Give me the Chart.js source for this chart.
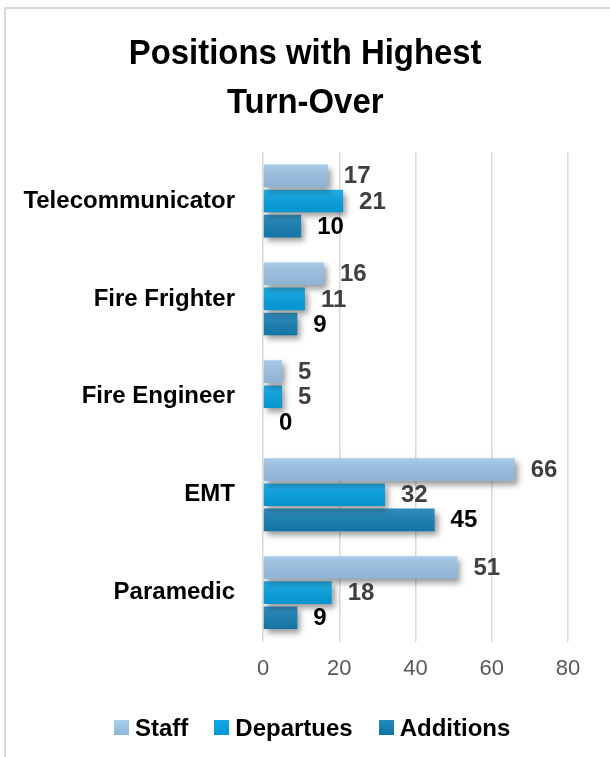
<!DOCTYPE html>
<html lang="en">
<head>
    <meta charset="UTF-8">
    <title>Positions with Highest Turn-Over</title>
    <script src="https://cdn.jsdelivr.net/npm/chart.js"></script>
    <style>
        html, body { margin: 0; padding: 0; background: #fff; overflow: hidden; }
        .frame {
            position: absolute;
            left: 4px; top: 7px;
            width: 604px; height: 800px;
            border-left: 2px solid #d9d9d9;
            border-top: 2px solid #d9d9d9;
            border-right: 1px solid #ececec;
        }
        .chart-title {
            position: absolute;
            left: 0; top: 27px;
            width: 610px;
            margin: 0;
            text-align: center;
            font-family: "Liberation Sans", Arial, sans-serif;
            font-weight: bold;
            font-size: 35px;
            line-height: 49px;
            color: #000;
            transform: scaleX(0.94);
            transform-origin: 308px 0;
        }
        .chart-container {
            position: absolute;
            left: 0; top: 0;
            width: 610px; height: 757px;
        }
        .chart-legend {
            position: absolute;
            left: 114px; top: 713px;
            white-space: nowrap;
            font-family: "Liberation Sans", Arial, sans-serif;
            font-weight: bold;
            font-size: 24px;
            line-height: 30px;
            color: #000;
        }
        .chart-legend span.item { margin-right: 26px; }
        .chart-legend span.box {
            display: inline-block;
            width: 15px; height: 15px;
            margin-right: 6px;
            vertical-align: 1px;
        }
    </style>
</head>
<body>
    <div class="frame"></div>
    <div class="chart-container">
        <canvas id="turnoverChart"></canvas>
    </div>
    <h1 class="chart-title">Positions with Highest<br>Turn-Over</h1>
    <div class="chart-legend" id="legend"></div>

    <script>
        const categories = ['Telecommunicator', 'Fire Frighter', 'Fire Engineer', 'EMT', 'Paramedic'];
        const seriesNames = ['Staff', 'Departues', 'Additions'];
        const staff = [17, 16, 5, 66, 51];
        const departures = [21, 11, 5, 32, 18];
        const additions = [10, 9, 0, 45, 9];
        const xTicks = [0, 20, 40, 60, 80];

        const barColors = ['#9cc3e6', '#05a1e0', '#167fb3'];
        const legendBoxes = [
            'linear-gradient(#abd0ee, #8db4da)',
            'linear-gradient(#10a8e6, #0097d6)',
            'linear-gradient(#2789bd, #0a74a7)'
        ];
        const valueColors = ['#404040', '#404040', '#000000'];

        // drop shadow + sheen + value labels
        const barDecor = {
            id: 'barDecor',
            beforeDatasetsDraw(chart) {
                const c = chart.ctx;
                c.save();
                c.shadowColor = 'rgba(0,0,0,0.4)';
                c.shadowBlur = 6;
                c.shadowOffsetX = 3;
                c.shadowOffsetY = 4;
            },
            afterDatasetsDraw(chart) {
                const c = chart.ctx;
                c.restore();
                chart.data.datasets.forEach((ds, di) => {
                    const meta = chart.getDatasetMeta(di);
                    meta.data.forEach((bar, i) => {
                        const top = bar.y - bar.height / 2;
                        const w = bar.x - bar.base;
                        if (w > 0) {
                            const g = c.createLinearGradient(0, top, 0, top + bar.height);
                            g.addColorStop(0, 'rgba(255,255,255,0.12)');
                            g.addColorStop(1, 'rgba(0,0,0,0.08)');
                            c.fillStyle = g;
                            c.fillRect(bar.base, top, w, bar.height);
                        }
                        c.save();
                        c.font = 'bold 24px "Liberation Sans", Arial, sans-serif';
                        c.fillStyle = valueColors[di];
                        c.textAlign = 'left';
                        c.textBaseline = 'middle';
                        c.fillText(ds.data[i], bar.x + 16, bar.y + 1);
                        c.restore();
                    });
                });
            }
        };

        const ctx = document.getElementById('turnoverChart').getContext('2d');
        const turnoverChart = new Chart(ctx, {
            type: 'bar',
            data: {
                labels: categories,
                datasets: [
                    { label: seriesNames[0], data: staff, backgroundColor: barColors[0] },
                    { label: seriesNames[1], data: departures, backgroundColor: barColors[1] },
                    { label: seriesNames[2], data: additions, backgroundColor: barColors[2] }
                ]
            },
            options: {
                indexAxis: 'y',
                responsive: true,
                maintainAspectRatio: false,
                animation: false,
                categoryPercentage: 0.77,
                barPercentage: 0.9,
                layout: { padding: { top: 152, right: 42, bottom: 61, left: 0 } },
                scales: {
                    x: {
                        min: 0,
                        max: 80,
                        afterBuildTicks: (scale) => { scale.ticks = xTicks.map(v => ({ value: v })); },
                        grid: { color: '#d9d9d9', lineWidth: 1.5, drawTicks: false },
                        border: { display: false },
                        ticks: {
                            padding: 14,
                            color: '#595959',
                            font: { family: '"Liberation Sans", Arial, sans-serif', size: 22 }
                        }
                    },
                    y: {
                        afterFit: (scale) => { scale.width = 263; },
                        grid: { display: false, drawTicks: false },
                        border: { display: false },
                        ticks: {
                            padding: 28,
                            color: '#000',
                            font: { family: '"Liberation Sans", Arial, sans-serif', size: 24, weight: 'bold' }
                        }
                    }
                },
                plugins: {
                    title: { display: false },
                    legend: { display: false },
                    tooltip: { enabled: false }
                }
            },
            plugins: [barDecor]
        });

        document.getElementById('legend').innerHTML = seriesNames.map((name, i) =>
            '<span class="item"><span class="box" style="background:' + legendBoxes[i] + '"></span>' + name + '</span>'
        ).join('');
    </script>
</body>
</html>
